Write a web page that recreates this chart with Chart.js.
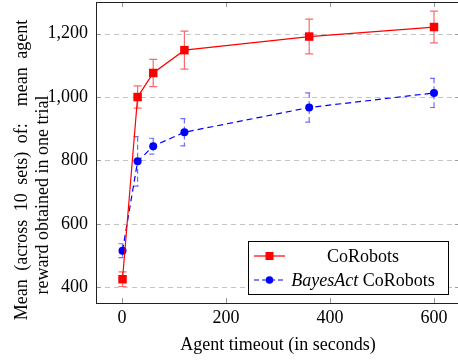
<!DOCTYPE html>
<html>
<head>
<meta charset="utf-8">
<script src="https://cdn.jsdelivr.net/npm/chart.js@4.4.1/dist/chart.umd.min.js"></script>
<style>
  html, body { margin: 0; padding: 0; background: #fff; overflow: hidden; }
  #wrap { width: 462px; height: 360px; }
</style>
</head>
<body>
<div id="wrap"><canvas id="chart"></canvas></div>
<script>
// Data
const timeouts = [1, 30, 60, 120, 360, 600];
const coRobotsMean = [425, 1000, 1076, 1148, 1191, 1221];
const coRobotsErr = [23, 35, 43, 60, 55, 50];
const bayesActMean = [515, 797, 845, 889, 967, 1013];
const bayesActErr = [22, 78, 25, 43, 46, 46];
const xTicks = [0, 200, 400, 600];
const yTicks = [400, 600, 800, 1000, 1200];

const serif = "'Liberation Serif', 'Times New Roman', serif";

const toPoints = (xs, ys) => xs.map((x, i) => ({ x: x, y: ys[i] }));

// Dashed horizontal grid + error bars, drawn under the lines and markers
const errorBars = {
  id: "errorBars",
  beforeDatasetsDraw(chart) {
    const { ctx, scales, chartArea: a } = chart;
    ctx.save();
    ctx.strokeStyle = "#c4c4c4";
    ctx.lineWidth = 1;
    ctx.setLineDash([5, 4]);
    ctx.beginPath();
    yTicks.forEach((v) => {
      const y = Math.round(scales.y.getPixelForValue(v)) + 0.5;
      ctx.moveTo(a.left, y);
      ctx.lineTo(a.right, y);
    });
    ctx.stroke();
    ctx.restore();

    chart.data.datasets.forEach((ds) => {
      if (!ds.errors) return;
      ctx.save();
      ctx.strokeStyle = ds.errorColor;
      ctx.lineWidth = 1.2;
      ctx.setLineDash(ds.errorDash || []);
      ds.data.forEach((p, i) => {
        const x = scales.x.getPixelForValue(p.x);
        const y1 = scales.y.getPixelForValue(p.y + ds.errors[i]);
        const y2 = scales.y.getPixelForValue(p.y - ds.errors[i]);
        ctx.beginPath();
        ctx.moveTo(x, y1);
        ctx.lineTo(x, y2);
        ctx.moveTo(x - 4, y1);
        ctx.lineTo(x + 4, y1);
        ctx.moveTo(x - 4, y2);
        ctx.lineTo(x + 4, y2);
        ctx.stroke();
      });
      ctx.restore();
    });
  },
};

// Box frame, inside tick marks, y label and legend
const decorations = {
  id: "decorations",
  afterDraw(chart) {
    const { ctx, chartArea: a, scales } = chart;
    ctx.save();

    // inside ticks
    ctx.strokeStyle = "#999";
    ctx.lineWidth = 1;
    ctx.beginPath();
    xTicks.forEach((v) => {
      const x = Math.round(scales.x.getPixelForValue(v)) + 0.5;
      ctx.moveTo(x, a.bottom);
      ctx.lineTo(x, a.bottom - 5);
      ctx.moveTo(x, a.top);
      ctx.lineTo(x, a.top + 5);
    });
    yTicks.forEach((v) => {
      const y = Math.round(scales.y.getPixelForValue(v)) + 0.5;
      ctx.moveTo(a.left, y);
      ctx.lineTo(a.left + 5, y);
      ctx.moveTo(a.right, y);
      ctx.lineTo(a.right - 5, y);
    });
    ctx.stroke();

    // frame
    ctx.strokeStyle = "#222";
    ctx.strokeRect(Math.round(a.left) + 0.5, Math.round(a.top) + 0.5,
      Math.round(a.right - a.left), Math.round(a.bottom - a.top));

    // y axis label, two lines (first one justified wider, as in the source)
    ctx.fillStyle = "#000";
    ctx.font = "18px " + serif;
    ctx.textAlign = "center";
    ctx.textBaseline = "alphabetic";
    [["Mean (across 10 sets) of:  mean agent", 27, 170, "4px"], ["reward obtained in one trial", 48, 195, "0px"]].forEach(([t, x, y, ws]) => {
      ctx.save();
      ctx.wordSpacing = ws;
      ctx.translate(x, y);
      ctx.rotate(-Math.PI / 2);
      ctx.fillText(t, 0, 0);
      ctx.restore();
    });

    // legend
    const lx = a.right - 212, ly = a.bottom - 62, lw = 200, lh = 53;
    ctx.fillStyle = "#fff";
    ctx.fillRect(lx, ly, lw, lh);
    ctx.strokeStyle = "#000";
    ctx.lineWidth = 1;
    ctx.strokeRect(Math.round(lx) + 0.5, Math.round(ly) + 0.5, lw, lh);

    const rows = [
      { y: ly + 15, color: "#ff0000", dash: [], marker: "rect", parts: [["CoRobots", ""]] },
      { y: ly + 39, color: "#0000ff", dash: [5, 3], marker: "circle", parts: [["BayesAct", "italic "], [" CoRobots", ""]] },
    ];
    rows.forEach((r) => {
      ctx.strokeStyle = r.color;
      ctx.lineWidth = 1.2;
      ctx.setLineDash(r.dash);
      ctx.beginPath();
      ctx.moveTo(lx + 6, r.y);
      ctx.lineTo(lx + 37, r.y);
      ctx.stroke();
      ctx.setLineDash([]);
      ctx.fillStyle = r.color;
      if (r.marker === "rect") {
        ctx.fillRect(lx + 21.5 - 4, r.y - 4, 8, 8);
      } else {
        ctx.beginPath();
        ctx.arc(lx + 21.5, r.y, 3.8, 0, Math.PI * 2);
        ctx.fill();
      }
      // centred text, mixed styles
      let total = 0;
      r.parts.forEach(([t, st]) => {
        ctx.font = st + "18px " + serif;
        total += ctx.measureText(t).width;
      });
      let tx = lx + 115 - total / 2;
      ctx.fillStyle = "#000";
      ctx.textAlign = "left";
      ctx.textBaseline = "middle";
      r.parts.forEach(([t, st]) => {
        ctx.font = st + "18px " + serif;
        ctx.fillText(t, tx, r.y + 1);
        tx += ctx.measureText(t).width;
      });
    });
    ctx.restore();
  },
};

new Chart(document.getElementById("chart"), {
  type: "line",
  data: {
    datasets: [
      {
        label: "CoRobots",
        data: toPoints(timeouts, coRobotsMean),
        errors: coRobotsErr,
        errorColor: "rgba(255, 40, 40, 0.7)",
        borderColor: "#ff0000",
        backgroundColor: "#ff0000",
        borderWidth: 1.2,
        pointStyle: "rect",
        pointRadius: 6,
        pointBorderWidth: 0,
        tension: 0,
      },
      {
        label: "BayesAct CoRobots",
        data: toPoints(timeouts, bayesActMean),
        errors: bayesActErr,
        errorColor: "rgba(60, 60, 255, 0.75)",
        errorDash: [5, 3],
        borderColor: "#0000ff",
        backgroundColor: "#0000ff",
        borderWidth: 1.2,
        borderDash: [6, 4],
        pointStyle: "circle",
        pointRadius: 4,
        pointBorderWidth: 0,
        tension: 0,
      },
    ],
  },
  options: {
    responsive: true,
    maintainAspectRatio: false,
    animation: false,
    layout: { autoPadding: false, padding: { top: 2, right: 2, left: 0, bottom: 0 } },
    plugins: {
      legend: { display: false },
      tooltip: { enabled: false },
    },
    scales: {
      x: {
        type: "linear",
        min: -50,
        max: 650,
        afterBuildTicks: (axis) => { axis.ticks = xTicks.map((v) => ({ value: v })); },
        afterFit: (axis) => {
          axis.height = 57;
          axis.paddingLeft = 0;
          axis.paddingRight = 0;
        },
        grid: { display: false, drawTicks: false },
        border: { display: false },
        ticks: { color: "#000", font: { family: serif, size: 18 }, padding: 4, maxRotation: 0 },
        title: {
          display: true,
          text: "Agent timeout (in seconds)",
          color: "#000",
          font: { family: serif, size: 18 },
          padding: { top: 0, bottom: 4 },
        },
      },
      y: {
        min: 350,
        max: 1300,
        afterBuildTicks: (axis) => { axis.ticks = yTicks.map((v) => ({ value: v })); },
        afterFit: (axis) => {
          axis.width = 96;
          axis.paddingTop = 0;
          axis.paddingBottom = 0;
        },
        grid: { display: false, drawTicks: false },
        border: { display: false },
        ticks: {
          color: "#000",
          font: { family: serif, size: 18 },
          padding: 8,
          callback: (v) => v.toLocaleString("en-US"),
        },
      },
    },
  },
  plugins: [errorBars, decorations],
});
</script>
</body>
</html>
